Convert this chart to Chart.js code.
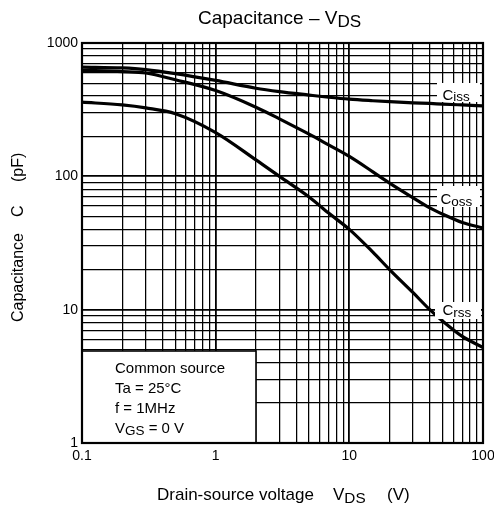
<!DOCTYPE html>
<html>
<head>
<meta charset="utf-8">
<script src="https://cdn.jsdelivr.net/npm/chart.js@4.4.1/dist/chart.umd.min.js"></script>
<style>
  html, body { margin: 0; padding: 0; background: #fff; }
  #wrap { width: 494px; height: 510px; position: relative; }
</style>
</head>
<body>
<div id="wrap"><canvas id="c" width="494" height="510"></canvas></div>
<script>
// Drain-source voltage (V) sample points
const vds  = [0.1, 0.2, 0.3, 0.5, 1, 2, 3, 5, 7, 10, 15, 20, 30, 40, 50, 70, 100];
// Capacitance (pF)
const ciss = [660, 650, 632, 590, 524, 458, 432, 407, 392, 379, 369, 363, 356, 352, 348, 343, 338];
const coss = [624, 610, 596, 530, 440, 330, 270, 207, 172, 141, 108, 89, 69, 58, 52, 45, 41];
const crss = [360, 343, 326, 295, 213, 133, 100, 70, 53, 40, 27, 20, 13.4, 10, 8.2, 6.3, 5.2];

// Axis ranges and labelled decades
const xTickValues = [0.1, 1, 10, 100];
const xTickLabels = ['0.1', '1', '10', '100'];
const yTickValues = [1, 10, 100, 1000];
const yTickLabels = ['1', '10', '100', '1000'];

const FONT = '"Liberation Sans", Arial, Helvetica, sans-serif';

// all 1-2-3...9 grid positions inside the decades
function logGrid(decades) {
  const out = [];
  for (let i = 0; i < decades.length - 1; i++) {
    for (let k = 1; k <= 9; k++) out.push({ value: decades[i] * k });
  }
  out.push({ value: decades[decades.length - 1] });
  return out;
}
function isDecade(v, decades) {
  return decades.some(d => Math.abs(v - d) / d < 1e-6);
}
function labelFor(v, decades, labels) {
  const i = decades.findIndex(d => Math.abs(v - d) / d < 1e-6);
  return i >= 0 ? labels[i] : '';
}

// draw a run of text pieces, some of them as subscripts
function richText(ctx, parts, x, y, size, align, subScale, subDrop) {
  subScale = subScale || 0.85;
  subDrop = subDrop === undefined ? 0.2 : subDrop;
  const fontOf = p => (p.sub ? size * subScale : size) + 'px ' + FONT;
  const measure = p => { ctx.font = fontOf(p); return ctx.measureText(p.t).width; };
  const total = parts.reduce((s, p) => s + measure(p), 0);
  let cx = align === 'center' ? x - total / 2 : (align === 'right' ? x - total : x);
  ctx.textAlign = 'left';
  ctx.textBaseline = 'alphabetic';
  for (const p of parts) {
    const w = measure(p);
    ctx.font = fontOf(p);
    ctx.fillText(p.t, cx, y + (p.sub ? size * subDrop : 0));
    cx += w;
  }
}

const series = [
  { label: 'Ciss', data: ciss },
  { label: 'Coss', data: coss },
  { label: 'Crss', data: crss }
];

const annotations = {
  id: 'annotations',
  afterDatasetsDraw(chart) {
    const ctx = chart.ctx;
    const a = chart.chartArea;
    ctx.save();

    // curve name tags at the right edge
    const tags = [
      { box: [437, 83, 43, 19], x: 442.5, base: 99.5, name: 'iss' },
      { box: [437, 186, 43, 21], x: 440.5, base: 204, name: 'oss' },
      { box: [435, 302, 46, 17], x: 442.5, base: 315, name: 'rss' }
    ];
    for (const t of tags) {
      ctx.fillStyle = '#fff';
      ctx.fillRect(t.box[0], t.box[1], t.box[2], t.box[3]);
      ctx.fillStyle = '#000';
      richText(ctx, [{ t: 'C' }, { t: t.name, sub: true }], t.x, t.base, 15, 'left', 0.9, 0.1);
    }

    // conditions box
    const bx = a.left, by = 351, bw = 256 - a.left, bh = a.bottom - 351;
    ctx.fillStyle = '#fff';
    ctx.fillRect(bx, by, bw, bh);
    ctx.strokeStyle = '#000';
    ctx.lineWidth = 1.6;
    ctx.strokeRect(bx, by, bw, bh);
    ctx.fillStyle = '#000';
    richText(ctx, [{ t: 'Common source' }], 115, 373, 15, 'left');
    richText(ctx, [{ t: 'Ta = 25°C' }], 115, 393, 15, 'left');
    richText(ctx, [{ t: 'f = 1MHz' }], 115, 413, 15, 'left');
    richText(ctx, [{ t: 'V' }, { t: 'GS', sub: true }, { t: ' = 0 V' }], 115, 433, 15, 'left', 0.9, 0.12);

    // plot frame
    ctx.lineWidth = 2.2;
    ctx.strokeRect(a.left, a.top, a.right - a.left, a.bottom - a.top);

    // chart title
    richText(ctx, [{ t: 'Capacitance – V' }, { t: 'DS', sub: true }], 198, 23.5, 19, 'left', 0.9, 0.17);

    // x axis title, in three spaced pieces
    richText(ctx, [{ t: 'Drain-source voltage' }], 157, 500, 17, 'left');
    richText(ctx, [{ t: 'V' }, { t: 'DS', sub: true }], 333, 500, 17, 'left', 0.9, 0.2);
    richText(ctx, [{ t: '(V)' }], 387, 500, 17, 'left');

    // y axis title, rotated
    ctx.save();
    ctx.translate(22.5, 322);
    ctx.rotate(-Math.PI / 2);
    richText(ctx, [{ t: 'Capacitance' }], 0, 0, 16, 'left');
    richText(ctx, [{ t: 'C' }], 105, 0, 16, 'left');
    richText(ctx, [{ t: '(pF)' }], 140, 0, 16, 'left');
    ctx.restore();

    ctx.restore();
  }
};

new Chart(document.getElementById('c'), {
  type: 'line',
  data: {
    datasets: series.map(s => ({
      label: s.label,
      data: vds.map((v, i) => ({ x: v, y: s.data[i] })),
      borderColor: '#000',
      borderWidth: 3.2,
      pointRadius: 0,
      fill: false,
      cubicInterpolationMode: 'monotone'
    }))
  },
  options: {
    responsive: false,
    animation: false,
    devicePixelRatio: 1,
    layout: { padding: { top: 43, right: 11, left: 0, bottom: 0 } },
    plugins: { legend: { display: false }, title: { display: false }, tooltip: { enabled: false } },
    scales: {
      x: {
        type: 'logarithmic',
        min: xTickValues[0],
        max: xTickValues[xTickValues.length - 1],
        afterBuildTicks: s => { s.ticks = logGrid(xTickValues); },
        afterFit: s => { s.height = 67; s.paddingLeft = 0; s.paddingRight = 0; },
        border: { display: false },
        grid: {
          color: '#000',
          lineWidth: c => isDecade(c.tick.value, xTickValues) ? 1.8 : 1.25,
          drawTicks: false
        },
        ticks: {
          autoSkip: false,
          maxRotation: 0,
          padding: 5,
          color: '#000',
          font: { family: FONT, size: 14 },
          callback: v => labelFor(v, xTickValues, xTickLabels)
        }
      },
      y: {
        type: 'logarithmic',
        min: yTickValues[0],
        max: yTickValues[yTickValues.length - 1],
        afterBuildTicks: s => { s.ticks = logGrid(yTickValues); },
        afterFit: s => { s.width = 82; s.paddingTop = 0; s.paddingBottom = 0; },
        border: { display: false },
        grid: {
          color: '#000',
          lineWidth: c => isDecade(c.tick.value, yTickValues) ? 1.8 : 1.25,
          drawTicks: false
        },
        ticks: {
          autoSkip: false,
          padding: 4,
          color: '#000',
          font: { family: FONT, size: 14 },
          callback: v => labelFor(v, yTickValues, yTickLabels)
        }
      }
    }
  },
  plugins: [annotations]
});
</script>
</body>
</html>
